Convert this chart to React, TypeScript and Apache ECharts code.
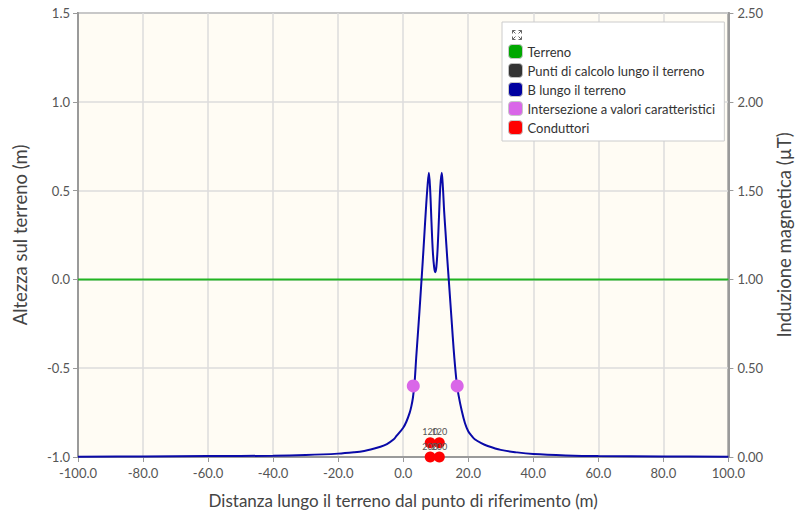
import React, { useEffect, useRef } from "react";
import * as echarts from "echarts";

const xTicks = { min: -100, max: 100, interval: 20 };
const groundLine: [number, number][] = [[-100, 0], [100, 0]];
const calcPoints: [number, number][] = [];
const bX = [-100, -80, -60, -40, -30, -20, -15, -12, -10, -7, -5, -3, -2, 0, 1, 2, 2.5, 3, 3.5, 4, 4.5, 5, 5.5, 6, 6.5, 7, 7.5, 7.9, 8.3, 8.7, 9.1, 9.5, 9.85, 10.2, 10.6, 11, 11.4, 11.85, 12.2, 12.6, 13, 13.5, 14, 14.5, 15, 15.5, 16, 16.5, 17, 18, 19, 20, 21, 22, 24, 26, 30, 35, 40, 50, 60, 80, 100];
const bY = [0.002, 0.003, 0.005, 0.007, 0.011, 0.019, 0.027, 0.034, 0.042, 0.058, 0.073, 0.098, 0.12, 0.165, 0.2, 0.25, 0.285, 0.335, 0.42, 0.56, 0.69, 0.82, 0.96, 1.1, 1.25, 1.4, 1.53, 1.6, 1.5, 1.32, 1.16, 1.07, 1.04, 1.07, 1.18, 1.35, 1.52, 1.6, 1.52, 1.38, 1.27, 1.13, 1.0, 0.87, 0.74, 0.61, 0.5, 0.41, 0.35, 0.26, 0.19, 0.145, 0.12, 0.1, 0.078, 0.062, 0.04, 0.026, 0.017, 0.009, 0.005, 0.003, 0.002];
const intersections: [number, number][] = [[3.1, 0.4], [16.6, 0.4]];
const conductorsX = [8.3, 11.1, 8.3, 11.1];
const conductorsY = [-0.92, -0.92, -1.0, -1.0];
const conductorLabels = ["120", "120", "200", "200"];

const FONT = "Lato";

export default function App() {
  const ref = useRef<HTMLDivElement>(null);
  useEffect(() => {
    if (!ref.current) return;
    const chart = echarts.init(ref.current, null, { renderer: "svg" });
    const axisLine = { show: true, onZero: false, lineStyle: { color: "#9a9a9a", width: 2 } };
    const axisLabel = { color: "#555", fontSize: 13, fontFamily: FONT };
    const nameStyle = { color: "#444", fontSize: 17, fontFamily: FONT };
    const yNameStyle = { color: "#444", fontSize: 18.5, fontFamily: FONT };
    const splitLine = { show: true, lineStyle: { color: "#dcdcdc", width: 1.5 } };
    const tick = { show: true, length: 5, lineStyle: { color: "#9a9a9a" } };
    chart.setOption({
      animation: false,
      textStyle: { fontFamily: FONT },
      grid: {
        left: 78, right: 68, top: 13, bottom: 62,
        show: true, backgroundColor: "#fffcf4", borderColor: "#8a8a8a", borderWidth: 2,
      },
      legend: {
        orient: "vertical",
        left: 502, top: 22,
        padding: [22, 9, 6, 6],
        backgroundColor: "#ffffff",
        borderColor: "#cccccc",
        borderWidth: 1,
        itemWidth: 14, itemHeight: 14,
        itemGap: 4,
        icon: "roundRect",
        itemStyle: { borderColor: "#c8c8c8", borderWidth: 1 },
        textStyle: { color: "#333", fontSize: 13, fontFamily: FONT },
        data: ["Terreno", "Punti di calcolo lungo il terreno", "B lungo il terreno", "Intersezione a valori caratteristici", "Conduttori"],
      },
      graphic: [
        {
          type: "group", left: 510, top: 28, z: 100,
          children: [
            { type: "polyline", z: 100, shape: { points: [[0, 3], [0, 0], [3, 0]] }, style: { stroke: "#666", fill: "none", lineWidth: 1 } },
            { type: "line", z: 100, shape: { x1: 0, y1: 0, x2: 3, y2: 3 }, style: { stroke: "#666", lineWidth: 1 } },
            { type: "polyline", z: 100, shape: { points: [[6, 0], [9, 0], [9, 3]] }, style: { stroke: "#666", fill: "none", lineWidth: 1 } },
            { type: "line", z: 100, shape: { x1: 9, y1: 0, x2: 6, y2: 3 }, style: { stroke: "#666", lineWidth: 1 } },
            { type: "polyline", z: 100, shape: { points: [[0, 6], [0, 9], [3, 9]] }, style: { stroke: "#666", fill: "none", lineWidth: 1 } },
            { type: "line", z: 100, shape: { x1: 0, y1: 9, x2: 3, y2: 6 }, style: { stroke: "#666", lineWidth: 1 } },
            { type: "polyline", z: 100, shape: { points: [[6, 9], [9, 9], [9, 6]] }, style: { stroke: "#666", fill: "none", lineWidth: 1 } },
            { type: "line", z: 100, shape: { x1: 9, y1: 9, x2: 6, y2: 6 }, style: { stroke: "#666", lineWidth: 1 } },
          ],
        },
      ],
      xAxis: {
        type: "value", min: xTicks.min, max: xTicks.max, interval: xTicks.interval,
        name: "Distanza lungo il terreno dal punto di riferimento (m)",
        nameLocation: "middle", nameGap: 35, nameTextStyle: nameStyle,
        axisLine, axisTick: tick,
        axisLabel: { ...axisLabel, margin: 9, formatter: (v: number) => v.toFixed(1) },
        splitLine,
      },
      yAxis: [
        {
          type: "value", min: -1, max: 1.5, interval: 0.5, position: "left",
          name: "Altezza sul terreno (m)", nameLocation: "middle", nameGap: 49, nameTextStyle: yNameStyle,
          axisLine, axisTick: tick,
          axisLabel: { ...axisLabel, margin: 8, formatter: (v: number) => v.toFixed(1) },
          splitLine,
        },
        {
          type: "value", min: 0, max: 2.5, interval: 0.5, position: "right",
          name: "Induzione magnetica (µT)", nameLocation: "middle", nameGap: 45, nameTextStyle: yNameStyle,
          axisLine, axisTick: tick,
          axisLabel: { ...axisLabel, margin: 9, formatter: (v: number) => v.toFixed(2) },
          splitLine: { show: false },
        },
      ],
      series: [
        {
          name: "Terreno", type: "line", yAxisIndex: 0, data: groundLine, showSymbol: false, color: "#00a800",
          lineStyle: { color: "#22b422", width: 2 }, itemStyle: { color: "#00a800" }, z: 3,
        },
        {
          name: "Punti di calcolo lungo il terreno", type: "scatter", yAxisIndex: 0, data: calcPoints,
          color: "#000000", itemStyle: { color: "#000000" },
        },
        {
          name: "B lungo il terreno", type: "line", yAxisIndex: 1, color: "#0000a0",
          data: bX.map((x, i) => [x, bY[i]]), showSymbol: false, smooth: 0.35,
          lineStyle: { color: "#0a0aa8", width: 2 }, itemStyle: { color: "#0000a0" }, z: 4,
        },
        {
          name: "Intersezione a valori caratteristici", type: "scatter", yAxisIndex: 1, data: intersections,
          color: "#d966e8", symbolSize: 13, itemStyle: { color: "#d966e8", opacity: 1 }, z: 5,
        },
        {
          name: "Conduttori", type: "scatter", yAxisIndex: 0, clip: false, color: "#ff0000",
          data: conductorsX.map((x, i) => ({ value: [x, conductorsY[i]], label: { formatter: conductorLabels[i] } })),
          symbolSize: 11, itemStyle: { color: "#ff0000", opacity: 1 }, z: 6,
          label: { show: true, position: "top", distance: 1, color: "#555", fontSize: 9, fontFamily: FONT },
        },
      ],
    });
    return () => chart.dispose();
  }, []);
  return <div ref={ref} style={{ position: "absolute", left: 0, top: 0, width: 801, height: 519 }} />;
}
